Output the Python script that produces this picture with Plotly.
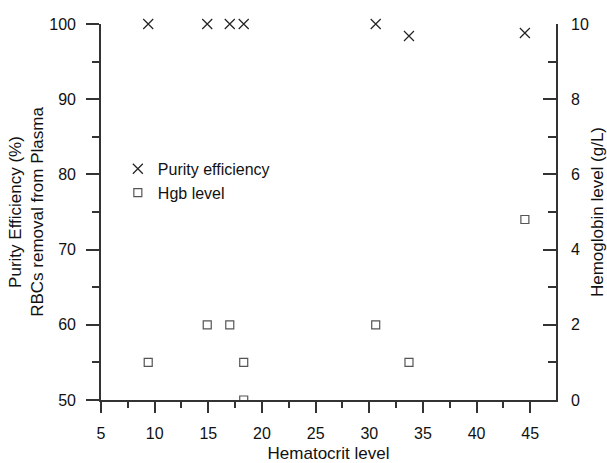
import plotly.graph_objects as go

hct = [9.4, 14.9, 17.0, 18.3, 30.6, 33.7, 44.5]
purity = [100, 100, 100, 100, 100, 98.4, 98.8]

hgb_x = [9.4, 14.9, 17.0, 18.3, 18.3, 30.6, 33.7, 44.5]
hgb_y = [1, 2, 2, 1, 0, 2, 1, 4.8]

font = dict(family="Liberation Sans, Arial, sans-serif", size=16, color="#111")
tfont = dict(family="Liberation Sans, Arial, sans-serif", size=17, color="#111")

fig = go.Figure()
fig.add_trace(go.Scatter(
    x=hct, y=purity, mode="markers", name="Purity efficiency", cliponaxis=False,
    marker=dict(symbol="x-thin-open", size=10, color="#222", line=dict(width=1.2, color="#222")),
))
fig.add_trace(go.Scatter(
    x=hgb_x, y=hgb_y, mode="markers", name="Hgb level", yaxis="y2",
    marker=dict(symbol="square-open", size=8, color="#555", line=dict(width=1.2, color="#555")),
))

axis_common = dict(
    showgrid=False, zeroline=False, showline=True, linecolor="#333", linewidth=1.6,
    tickcolor="#333", tickwidth=1.6, tickfont=font, automargin=False,
)

fig.update_layout(
    width=607, height=463,
    margin=dict(l=101, r=51, t=24, b=63),
    paper_bgcolor="white", plot_bgcolor="white",
    font=font,
    showlegend=True,
    legend=dict(x=0.037, y=0.66, xanchor="left", yanchor="top",
                bgcolor="rgba(0,0,0,0)", font=dict(size=16),
                itemwidth=30, tracegroupgap=2),
    xaxis=dict(
        **axis_common, ticks="outside", range=[5, 47.4], tick0=5, dtick=5, ticklen=11,
        ticklabelstandoff=7,
        minor=dict(dtick=2.5, ticklen=6, tickwidth=1.6, tickcolor="#333", ticks="outside"),
        title=dict(text="Hematocrit level", font=tfont, standoff=8),
    ),
    yaxis=dict(
        **axis_common, ticks="outside", range=[50, 100], tick0=50, dtick=10, ticklen=13,
        ticklabelstandoff=7,
        minor=dict(dtick=5, ticklen=7, tickwidth=1.6, tickcolor="#333", ticks="outside"),
        title=dict(text="Purity Efficiency (%)<br>RBCs removal from Plasma", font=tfont, standoff=1),
    ),
    yaxis2=dict(
        **axis_common, ticks="inside", range=[0, 10], tick0=0, dtick=2, ticklen=13, side="right",
        overlaying="y", anchor="x", ticklabelstandoff=10,
        minor=dict(dtick=1, ticklen=8, tickwidth=1.6, tickcolor="#333", ticks="inside"),
        title=dict(text="Hemoglobin level (g/L)", font=tfont, standoff=10),
    ),
)

fig.write_html("out.html")
